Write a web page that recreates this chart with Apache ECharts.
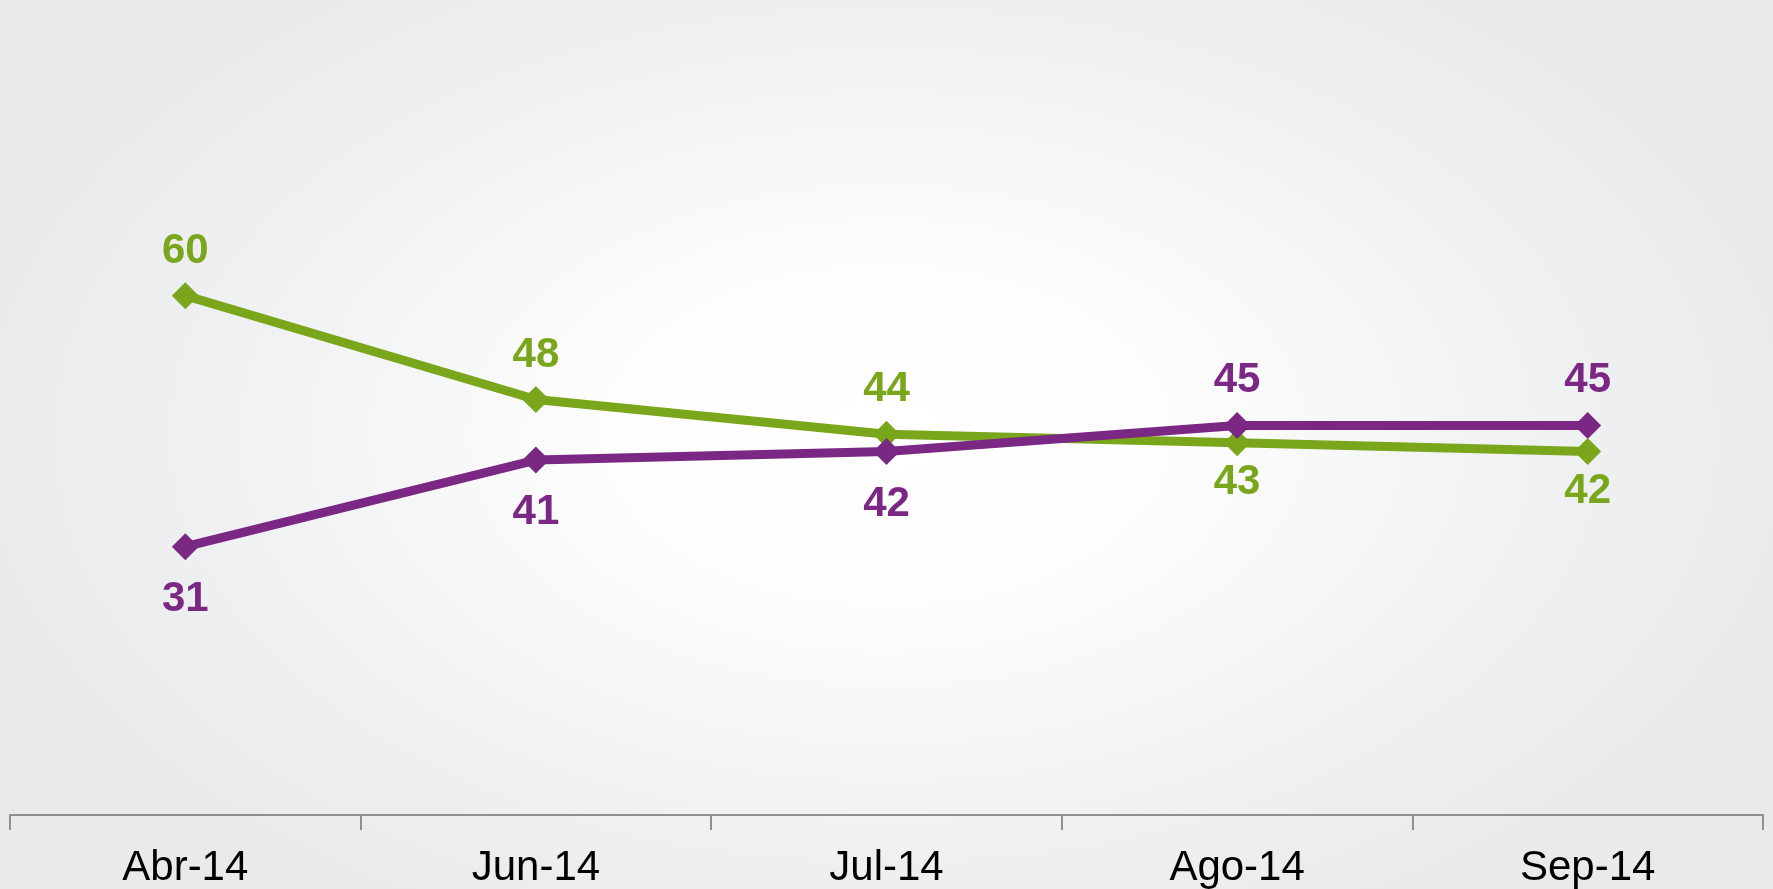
<!DOCTYPE html>
<html>
<head>
<meta charset="utf-8">
<script src="https://cdn.jsdelivr.net/npm/echarts@6/dist/echarts.min.js"></script>
<style>
html,body{margin:0;padding:0;}
#chart{width:1773px;height:889px;background:radial-gradient(ellipse 52% 62% at 50% 49%, #ffffff 0%, #fdfdfd 30%, #f3f4f5 60%, #e9eaec 100%);}
</style>
</head>
<body>
<div id="chart"></div>
<script>
const categories = ['Abr-14', 'Jun-14', 'Jul-14', 'Ago-14', 'Sep-14'];
const greenValues = [60, 48, 44, 43, 42];
const purpleValues = [31, 41, 42, 45, 45];
const greenLabelPos = ['top', 'top', 'top', 'bottom', 'bottom'];
const purpleLabelPos = ['bottom', 'bottom', 'bottom', 'top', 'top'];

const GREEN = '#7aa61c';
const PURPLE = '#7b2884';

function mkData(vals, pos, topDist, botDist) {
  return vals.map((v, i) => ({
    value: v,
    label: { position: pos[i], distance: pos[i] === 'top' ? topDist : botDist }
  }));
}

const chart = echarts.init(document.getElementById('chart'), null, {renderer: 'canvas'});
chart.setOption({
  backgroundColor: 'transparent',
  animation: false,
  grid: { left: 10, right: 10, top: 36, bottom: 74, containLabel: false },
  xAxis: {
    type: 'category',
    data: categories,
    boundaryGap: true,
    axisLine: { show: true, lineStyle: { color: '#8f8f8f', width: 2 } },
    axisTick: { show: true, length: 15, lineStyle: { color: '#8f8f8f', width: 2 } },
    axisLabel: { color: '#000', fontFamily: 'Liberation Sans, Arial, sans-serif', fontSize: 42, margin: 32 },
    splitLine: { show: false }
  },
  yAxis: {
    type: 'value', min: 0, max: 90, show: false, splitLine: { show: false }
  },
  series: [
    {
      type: 'line',
      data: mkData(greenValues, greenLabelPos, 10, 5),
      symbol: 'diamond', symbolSize: 27,
      lineStyle: { color: GREEN, width: 9 },
      itemStyle: { color: GREEN },
      label: { show: true, color: GREEN, fontFamily: 'Liberation Sans, Arial, sans-serif', fontWeight: 'bold', fontSize: 42 },
      z: 2
    },
    {
      type: 'line',
      data: mkData(purpleValues, purpleLabelPos, 11, 18),
      symbol: 'diamond', symbolSize: 27,
      lineStyle: { color: PURPLE, width: 9 },
      itemStyle: { color: PURPLE },
      label: { show: true, color: PURPLE, fontFamily: 'Liberation Sans, Arial, sans-serif', fontWeight: 'bold', fontSize: 42 },
      z: 3
    }
  ]
});
</script>
</body>
</html>
